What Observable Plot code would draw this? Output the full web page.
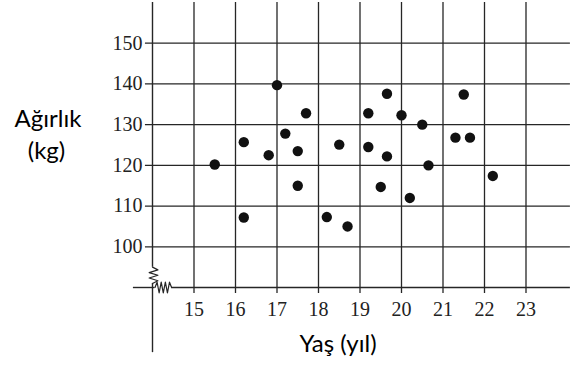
<!DOCTYPE html>
<html>
<head>
<meta charset="utf-8">
<script src="https://cdn.jsdelivr.net/npm/d3@7"></script>
<script src="https://cdn.jsdelivr.net/npm/@observablehq/plot@0.6"></script>
<style>
  html, body { margin: 0; padding: 0; background: #fff; }
</style>
</head>
<body>
<div id="chart"></div>
<script>
// Data
const ages    = [15.5, 16.2, 16.2, 16.8, 17.0, 17.2, 17.5, 17.5, 17.7, 18.2, 18.5, 18.7, 19.2, 19.2, 19.5, 19.65, 19.65, 20.0, 20.2, 20.5, 20.65, 21.3, 21.5, 21.65, 22.2];
const weights = [120.2, 125.7, 107.2, 122.5, 139.7, 127.8, 123.5, 115.0, 132.8, 107.3, 125.1, 105.0, 132.8, 124.5, 114.7, 137.6, 122.2, 132.3, 112.0, 130.0, 120.0, 126.8, 137.4, 126.8, 117.4];
const xTicks  = [15, 16, 17, 18, 19, 20, 21, 22, 23];
const yTicks  = [100, 110, 120, 130, 140, 150];
const xLabel  = "Yaş (yıl)";
const yLabel1 = "Ağırlık";
const yLabel2 = "(kg)";

const points = ages.map((a, i) => ({age: a, weight: weights[i]}));

// axis-break zigzags (decoration)
const yBreak = [0, 1, 2, 3, 4, 5, 6].map(i => ({x: 14 + (i === 0 || i === 6 ? 0 : (i % 2 ? 0.13 : -0.08)), y: 95 - i * 4 / 6}));
const xBreak = [0, 1, 2, 3, 4, 5, 6, 7, 8].map(i => ({x: 14.06 + i * 0.4 / 8, y: 90 + (i === 0 || i === 8 ? 0 : (i % 2 ? 1.3 : -1.3))}));

const ink = "#262626";
const serif = "'Liberation Serif', 'DejaVu Serif', serif";
const sans = "Lato, 'Open Sans', sans-serif";

const chart = Plot.plot({
  width: 574,
  height: 365,
  marginLeft: 152,
  marginRight: 7,
  marginTop: 2,
  marginBottom: 78,
  x: {domain: [14, 24], axis: null},
  y: {domain: [90, 160], axis: null},
  style: {background: "#fff", fontFamily: serif},
  marks: [
    // vertical grid lines with small ticks below the axis
    Plot.ruleX(xTicks, {x: d => d, y1: 88.5, y2: 160, stroke: ink, strokeWidth: 1.3}),
    // horizontal grid lines with small ticks left of the axis
    Plot.ruleY(yTicks, {y: d => d, x1: 13.83, x2: 24.07, stroke: ink, strokeWidth: 1.3}),
    // y axis (broken)
    Plot.ruleX([14], {x: d => d, y1: 95, y2: 160, stroke: ink, strokeWidth: 1.4}),
    Plot.ruleX([14], {x: d => d, y1: 74, y2: 91, stroke: ink, strokeWidth: 1.4}),
    // x axis (broken)
    Plot.ruleY([90], {y: d => d, x1: 13.54, x2: 14.06, stroke: ink, strokeWidth: 1.4}),
    Plot.ruleY([90], {y: d => d, x1: 14.46, x2: 24.07, stroke: ink, strokeWidth: 1.4}),
    Plot.line(yBreak, {x: "x", y: "y", stroke: ink, strokeWidth: 1.2}),
    Plot.line(xBreak, {x: "x", y: "y", stroke: ink, strokeWidth: 1.2}),
    // tick labels
    Plot.text(yTicks, {x: 14, y: d => d, text: d => String(d), textAnchor: "end", dx: -10, fontSize: 20, fill: "#222", fontFamily: serif}),
    Plot.text(xTicks, {x: d => d, y: 90, text: d => String(d), dy: 22, fontSize: 20, fill: "#222", fontFamily: serif}),
    // data points
    Plot.dot(points, {x: "age", y: "weight", r: 5.2, fill: "#111", stroke: "none"}),
    // axis titles
    Plot.text([xLabel], {text: d => d, frameAnchor: "bottom", textAnchor: "middle", lineAnchor: "middle", dx: -22, dy: 57, fontSize: 24, fill: "#000", fontFamily: sans}),
    Plot.text([yLabel1], {text: d => d, frameAnchor: "left", textAnchor: "middle", lineAnchor: "middle", dx: -104.5, dy: -26, fontSize: 24, fill: "#000", fontFamily: sans}),
    Plot.text([yLabel2], {text: d => d, frameAnchor: "left", textAnchor: "middle", lineAnchor: "middle", dx: -106, dy: 6, fontSize: 24, fill: "#000", fontFamily: sans})
  ]
});

document.getElementById("chart").appendChild(chart);
</script>
</body>
</html>
